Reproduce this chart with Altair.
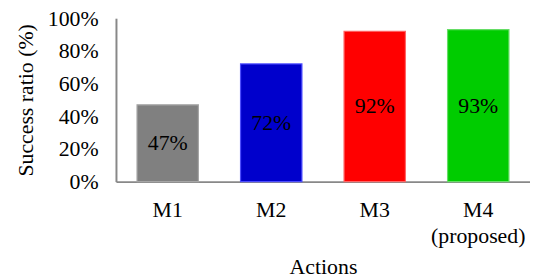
import altair as alt
import pandas as pd

actions = ["M1", "M2", "M3", "M4"]
ratios = [0.47, 0.72, 0.92, 0.93]
labels = ["47%", "72%", "92%", "93%"]
fills = ["#808080", "#0000CC", "#FF0000", "#00CC00"]
strokes = ["#a6a6a6", "#4d4dff", "#ff6666", "#66dd66"]

df = pd.DataFrame({"action": actions, "ratio": ratios, "label": labels})

FONT = "Liberation Serif, Times New Roman, serif"
FS = 22

x_axis = alt.Axis(
    title="Actions",
    labelAngle=0,
    ticks=False,
    labelPadding=18,
    labelFontSize=FS,
    labelFont=FONT,
    labelColor="black",
    labelLineHeight=26,
    labelBaseline="top",
    labelExpr="datum.value == 'M4' ? ['M4', '(proposed)'] : datum.value",
    titleFontSize=FS,
    titleFont=FONT,
    titleFontWeight="normal",
    titleColor="black",
    titlePadding=11,
    domainColor="#888888",
    domainWidth=2,
)

y_axis = alt.Axis(
    title="Success ratio (%)",
    values=[0, 0.2, 0.4, 0.6, 0.8, 1.0],
    format=".0%",
    ticks=False,
    grid=False,
    labelOverlap=False,
    labelPadding=18,
    labelFontSize=FS,
    labelFont=FONT,
    labelColor="black",
    titleFontSize=FS,
    titleFont=FONT,
    titleFontWeight="normal",
    titleColor="black",
    titlePadding=10,
    domainColor="#888888",
    domainWidth=2,
)

x_scale = alt.Scale(paddingInner=0.407, paddingOuter=0.2035)
y_scale = alt.Scale(domain=[0, 1])

bars = alt.Chart(df).mark_bar(strokeWidth=1.2).encode(
    x=alt.X("action:N", sort=actions, scale=x_scale, axis=x_axis),
    y=alt.Y("ratio:Q", scale=y_scale, axis=y_axis),
    fill=alt.Fill("action:N", scale=alt.Scale(domain=actions, range=fills), legend=None),
    stroke=alt.Stroke("action:N", scale=alt.Scale(domain=actions, range=strokes), legend=None),
)

text = alt.Chart(df).transform_calculate(mid="datum.ratio / 2").mark_text(
    font=FONT, fontSize=FS, color="black", baseline="middle", align="center"
).encode(
    x=alt.X("action:N", sort=actions, scale=x_scale, axis=x_axis),
    y=alt.Y("mid:Q", scale=y_scale, axis=y_axis),
    text="label:N",
)

chart = (
    alt.layer(bars, text)
    .properties(
        width=418,
        height=165,
        autosize=alt.AutoSizeParams(type="none"),
        padding={"left": 109, "top": 9, "right": 0, "bottom": 96},
    )
    .configure_view(stroke=None)
)

chart.save("out.html", embed_options={"renderer": "svg", "actions": False})
